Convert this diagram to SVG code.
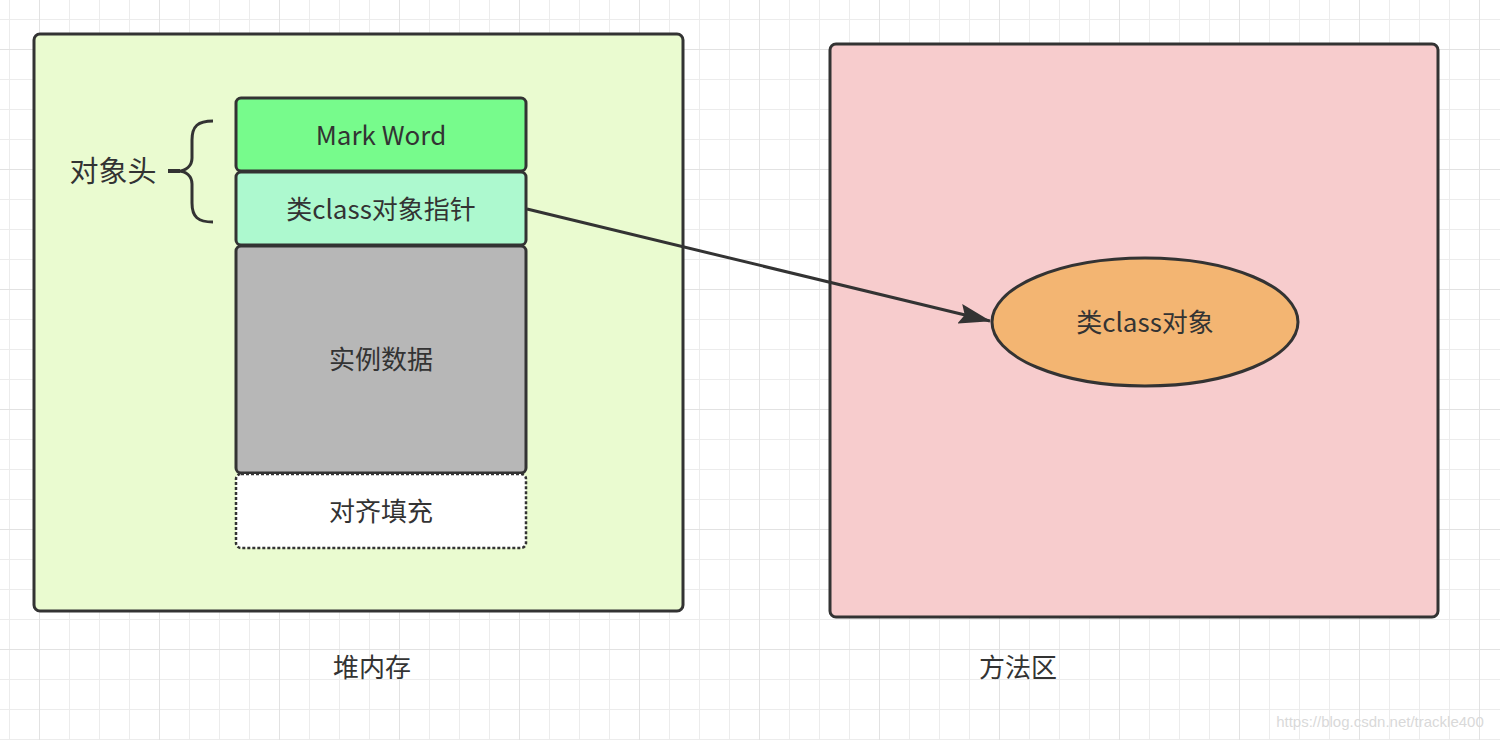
<svg xmlns="http://www.w3.org/2000/svg" width="1500" height="740" viewBox="0 0 1500 740">
<defs>
<pattern id="minor" x="9" y="19" width="30" height="30" patternUnits="userSpaceOnUse">
<path d="M0 0H30M0 0V30" fill="none" stroke="#ececec" stroke-width="2"/>
</pattern>
<pattern id="major" x="39" y="49" width="120" height="120" patternUnits="userSpaceOnUse">
<path d="M0 0H120M0 0V120" fill="none" stroke="#e2e2e2" stroke-width="2"/>
</pattern>
<marker id="arrow" viewBox="0 0 32 20" refX="31" refY="10" markerWidth="32" markerHeight="20" markerUnits="userSpaceOnUse" orient="auto">
<path d="M0 0L32 10L0 20L5 10Z" fill="#333"/>
</marker>
<style>
text{font-family:"Noto Sans CJK SC","Liberation Sans",sans-serif;fill:#333;text-anchor:middle;dominant-baseline:central}
.box{stroke:#333;stroke-width:3}
.cell{stroke:#333;stroke-width:3}
.t26{font-size:26px}
</style>
</defs>
<rect width="1500" height="740" fill="#ffffff"/>
<rect width="1500" height="740" fill="url(#minor)"/>
<rect width="1500" height="740" fill="url(#major)"/>

<g id="heap">
<rect class="box" x="34" y="34" width="649" height="577" rx="6" fill="#eafbd0"/>
</g>
<g id="method-area">
<rect class="box" x="830" y="44" width="608" height="573" rx="6" fill="#f7cccd"/>
</g>

<g id="mark-word">
<rect class="cell" x="236" y="98" width="290" height="73" rx="5" fill="#77fb8c"/>
<text class="t26" x="381" y="133">Mark Word</text>
</g>
<g id="class-pointer">
<rect class="cell" x="236" y="172" width="290" height="73" rx="5" fill="#adf9cf"/>
<text class="t26" x="381" y="207">类class对象指针</text>
</g>
<g id="instance-data">
<rect class="cell" x="236" y="246" width="290" height="227" rx="5" fill="#b7b7b7"/>
<text class="t26" x="381" y="357">实例数据</text>
</g>
<g id="padding">
<rect x="236" y="474" width="290" height="74" rx="5" fill="#ffffff" stroke="#333" stroke-width="2.5" stroke-dasharray="3 2"/>
<text class="t26" x="381" y="509">对齐填充</text>
</g>

<g id="object-header">
<path d="M213 121C198 121 192 126 192 140V158C192 166 186 171 178 171H170M178 171C186 171 192 176 192 184V203C192 217 198 222 213 222" fill="none" stroke="#333" stroke-width="3"/>
<path d="M168 171H180" stroke="#333" stroke-width="4"/>
<text x="113" y="169" font-size="29">对象头</text>
</g>

<g id="class-object">
<ellipse cx="1145" cy="322" rx="153" ry="64" fill="#f3b572" stroke="#333" stroke-width="3"/>
<text class="t26" x="1145" y="320">类class对象</text>
</g>

<g id="connectors">
<line x1="527" y1="209" x2="990" y2="321" stroke="#333" stroke-width="3" marker-end="url(#arrow)"/>
</g>

<g id="labels">
<text class="t26" x="372" y="665">堆内存</text>
<text class="t26" x="1018" y="665">方法区</text>
<text x="1380" y="721" font-size="15" style="fill:#d9d9d9;font-family:'Liberation Sans',sans-serif">https://blog.csdn.net/trackle400</text>
</g>
</svg>
